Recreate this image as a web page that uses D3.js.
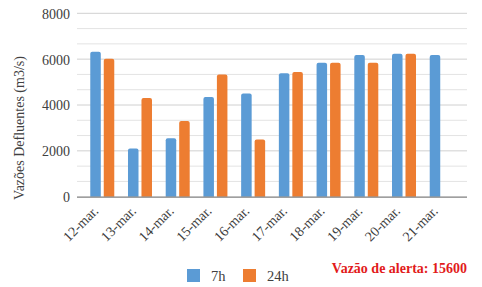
<!DOCTYPE html>
<html><head><meta charset="utf-8">
<script src="https://cdn.jsdelivr.net/npm/d3@7"></script>
<style>body{margin:0;background:#fff}svg{display:block}</style>
</head><body><svg id="c" width="482" height="287"></svg>
<script>
const categories = ["12-mar.","13-mar.","14-mar.","15-mar.","16-mar.","17-mar.","18-mar.","19-mar.","20-mar.","21-mar."];
const seriesNames = ["7h","24h"];
const values7h  = [6320,2100,2550,4350,4500,5390,5840,6180,6240,6180];
const values24h = [6020,4300,3300,5330,2500,5440,5840,5840,6240,null];
const yTicks = [0,2000,4000,6000,8000];
const colors = ["#5b9bd5","#ed7d31"];
const alertText = "Vazão de alerta: 15600";
const yTitle = "Vazões Defluentes (m3/s)";

const FONT = "Liberation Serif, Times New Roman, serif";
const TXT = "#404040";
const svg = d3.select("#c");
const pLeft = 77, pRight = 467, pTop = 13.3, pBottom = 196.7;
const x = d3.scaleBand().domain(categories).range([pLeft,pRight]).paddingInner(0).paddingOuter(0.17);
const y = d3.scaleLinear().domain([0,8000]).range([pBottom,pTop]);
const sub = d3.scaleBand().domain(seriesNames).range([-12,12]).paddingInner(0.22);

// gridlines (every 2000/3)
const grid = d3.range(1,13).map(i=>i*8000/12);
svg.append("g").selectAll("line").data(grid).join("line")
  .attr("x1",pLeft).attr("x2",pRight).attr("y1",d=>y(d)).attr("y2",d=>y(d))
  .attr("stroke",d=>(Math.round(d)%2000===0)?"#d0d0d0":"#e3e3e3").attr("stroke-width",1);

// bars
const series = [values7h, values24h];
series.forEach((vals,si)=>{
  svg.append("g").selectAll("path").data(categories.map((c,i)=>({c,v:vals[i]})).filter(d=>d.v!=null))
    .join("path")
    .attr("fill",colors[si])
    .attr("d",d=>{
      const x0 = x(d.c)+x.bandwidth()/2+sub(seriesNames[si]);
      const w = sub.bandwidth();
      const y0 = y(d.v), y1 = y(0), r = 2;
      return `M${x0},${y1}V${y0+r}Q${x0},${y0} ${x0+r},${y0}H${x0+w-r}Q${x0+w},${y0} ${x0+w},${y0+r}V${y1}Z`;
    });
});

// axis baseline
svg.append("line").attr("x1",pLeft).attr("x2",pRight).attr("y1",y(0)+0.5).attr("y2",y(0)+0.5)
  .attr("stroke","#7f7f7f").attr("stroke-width",1.3);

// y tick labels
const yAxis = d3.axisLeft(y).tickValues(yTicks).tickFormat(d3.format("d")).tickSize(0).tickPadding(0);
const gy = svg.append("g").attr("transform",`translate(70,0)`).call(yAxis)
  .attr("font-family",FONT).attr("font-size",14);
gy.select(".domain").remove();
gy.selectAll("text").attr("fill",TXT).attr("dy","0.35em");

// x tick labels
const xAxis = d3.axisBottom(x).tickSize(0).tickPadding(0);
const gx = svg.append("g").attr("transform",`translate(0,${pBottom})`).call(xAxis)
  .attr("font-family",FONT).attr("font-size",14);
gx.select(".domain").remove();
gx.selectAll("text").attr("fill",TXT)
  .attr("text-anchor","end").attr("dy",null).attr("y",null)
  .attr("transform","translate(-3,15) rotate(-45)");

// y title
svg.append("text").attr("transform","translate(24,128) rotate(-90)")
  .attr("font-family",FONT)
  .attr("text-anchor","middle").attr("font-size",14).attr("fill",TXT).text(yTitle);

// legend
const lg = svg.append("g").attr("font-family",FONT);
const legendX = [187,243];
seriesNames.forEach((n,i)=>{
  lg.append("rect").attr("x",legendX[i]).attr("y",269).attr("width",13).attr("height",13).attr("fill",colors[i]);
  lg.append("text").attr("x",legendX[i]+24).attr("y",281).attr("font-size",14.5).attr("fill",TXT).text(n);
});

// alert text
svg.append("text").attr("x",467).attr("y",273).attr("text-anchor","end").attr("font-family",FONT)
  .attr("font-size",14).attr("font-weight","bold").attr("fill","#e21b1b").text(alertText);
</script></body></html>
